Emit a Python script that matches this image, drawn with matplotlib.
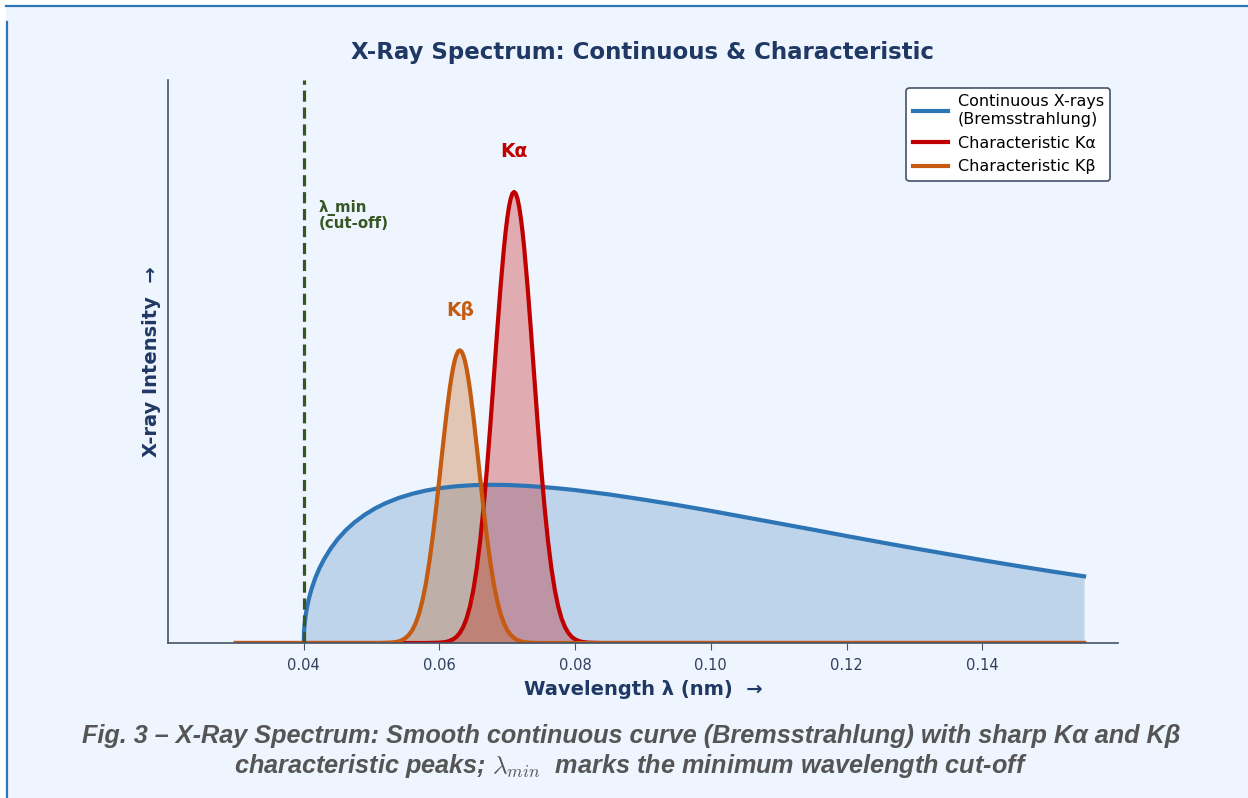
import matplotlib
matplotlib.use("Agg")
import matplotlib.pyplot as plt
from matplotlib.lines import Line2D

plt.rcParams["mathtext.fontset"] = "cm"

# ---------------- data ----------------
cont_wl = [0.0400, 0.04005, 0.0401, 0.0402, 0.0403, 0.0405, 0.0408, 0.0412, 0.0417,
           0.0423, 0.0430, 0.0440, 0.0450, 0.0462, 0.0475, 0.0490, 0.0505, 0.0520,
           0.0540, 0.0560, 0.0580, 0.0600, 0.0625, 0.0650, 0.0675, 0.0700, 0.0725,
           0.0750, 0.0775, 0.0800, 0.0850, 0.0900, 0.0950, 0.1000, 0.1050, 0.1100,
           0.1150, 0.1200, 0.1250, 0.1300, 0.1350, 0.1400, 0.1450, 0.1500, 0.1550]
cont_int = [0.000, 0.072, 0.102, 0.144, 0.176, 0.226, 0.284, 0.344, 0.406,
            0.466, 0.524, 0.592, 0.649, 0.705, 0.755, 0.802, 0.841, 0.873,
            0.907, 0.933, 0.953, 0.968, 0.980, 0.987, 0.989, 0.988, 0.983,
            0.976, 0.967, 0.956, 0.929, 0.897, 0.863, 0.826, 0.787, 0.748,
            0.709, 0.669, 0.630, 0.592, 0.555, 0.518, 0.483, 0.449, 0.417]

ka_wl = [0.030, 0.058, 0.059, 0.060, 0.061, 0.0615, 0.062, 0.0625, 0.063, 0.0635,
         0.064, 0.0645, 0.065, 0.0655, 0.066, 0.0665, 0.067, 0.0675, 0.068, 0.0685,
         0.069, 0.0695, 0.06975, 0.070, 0.07025, 0.0705, 0.07075, 0.071,
         0.07125, 0.0715, 0.07175, 0.072, 0.07225, 0.0725, 0.073, 0.0735, 0.074,
         0.0745, 0.075, 0.0755, 0.076, 0.0765, 0.077, 0.0775, 0.078, 0.0785,
         0.079, 0.0795, 0.080, 0.0805, 0.081, 0.082, 0.083, 0.084, 0.155]
ka_int = [0.0, 0.0, 0.001, 0.002, 0.007, 0.013, 0.023, 0.038, 0.063, 0.100,
          0.153, 0.229, 0.332, 0.467, 0.638, 0.846, 1.089, 1.361, 1.651, 1.945,
          2.223, 2.467, 2.570, 2.657, 2.727, 2.778, 2.810, 2.820,
          2.810, 2.778, 2.727, 2.657, 2.570, 2.467, 2.223, 1.945, 1.651,
          1.361, 1.089, 0.846, 0.638, 0.467, 0.332, 0.229, 0.153, 0.100,
          0.063, 0.038, 0.023, 0.013, 0.007, 0.002, 0.001, 0.0, 0.0]

kb_wl = [0.030, 0.051, 0.052, 0.053, 0.0535, 0.054, 0.0545, 0.055, 0.0555, 0.056,
         0.0565, 0.057, 0.0575, 0.058, 0.0585, 0.059, 0.0595, 0.060, 0.0605, 0.061,
         0.0615, 0.06175, 0.062, 0.06225, 0.0625, 0.06275, 0.063,
         0.06325, 0.0635, 0.06375, 0.064, 0.06425, 0.0645, 0.065, 0.0655, 0.066,
         0.0665, 0.067, 0.0675, 0.068, 0.0685, 0.069, 0.0695, 0.070, 0.0705, 0.071,
         0.0715, 0.072, 0.0725, 0.073, 0.074, 0.075, 0.155]
kb_int = [0.0, 0.0, 0.001, 0.003, 0.006, 0.010, 0.018, 0.031, 0.051, 0.080,
          0.124, 0.184, 0.266, 0.371, 0.503, 0.660, 0.838, 1.031, 1.228, 1.418,
          1.585, 1.656, 1.717, 1.766, 1.801, 1.823, 1.830,
          1.823, 1.801, 1.766, 1.717, 1.656, 1.585, 1.418, 1.228, 1.031,
          0.838, 0.660, 0.503, 0.371, 0.266, 0.184, 0.124, 0.080, 0.051, 0.031,
          0.018, 0.010, 0.006, 0.003, 0.001, 0.0, 0.0]

lambda_min = 0.04
ka_peak = (0.071, 2.82)
kb_peak = (0.063, 1.83)
x_ticks = [0.04, 0.06, 0.08, 0.10, 0.12, 0.14]
x_tick_labels = ["0.04", "0.06", "0.08", "0.10", "0.12", "0.14"]

# ---------------- styling ----------------
BG = "#EEF5FE"
BLUE = "#2E75B6"
RED = "#C00000"
ORANGE = "#C55A11"
GREEN = "#375623"
NAVY = "#1F3864"
SPINE = "#44546A"

fig = plt.figure(figsize=(12.48, 7.98), dpi=100, facecolor="white")
fig.patches.append(plt.Rectangle((6 / 1248, 0), 1 - 6 / 1248, 1 - 6 / 798,
                                 transform=fig.transFigure, facecolor=BG,
                                 edgecolor="none", zorder=-10))
fig.add_artist(Line2D([6 / 1248, 1], [1 - 6 / 798, 1 - 6 / 798],
                      transform=fig.transFigure, color=BLUE, lw=1.6))
fig.add_artist(Line2D([6.5 / 1248, 6.5 / 1248], [0, 1 - 22 / 798],
                      transform=fig.transFigure, color=BLUE, lw=1.6))

ax = fig.add_axes([168 / 1248, 1 - 643 / 798, (1118 - 168) / 1248, (643 - 80) / 798])
ax.set_facecolor(BG)

# continuous
ax.fill_between(cont_wl, cont_int, color=BLUE, alpha=0.25, lw=0)
ax.plot(cont_wl, cont_int, color=BLUE, lw=3, label="Continuous X-rays\n(Bremsstrahlung)")
# K alpha
ax.fill_between(ka_wl, ka_int, color=RED, alpha=0.30, lw=0)
ax.plot(ka_wl, ka_int, color=RED, lw=3, label="Characteristic Kα")
# K beta
ax.fill_between(kb_wl, kb_int, color=ORANGE, alpha=0.30, lw=0)
ax.plot(kb_wl, kb_int, color=ORANGE, lw=3, label="Characteristic Kβ")

# cut-off
ax.axvline(lambda_min, color=GREEN, lw=2.3, ls=(0, (3.5, 1.8)))
ax.text(lambda_min + 0.0022, 2.77, "λ_min\n(cut-off)", color=GREEN, fontsize=10.8,
        fontweight="bold", ha="left", va="top", linespacing=1.0)

ax.text(ka_peak[0], ka_peak[1] + 0.25, "Kα", color=RED, fontsize=13.5, fontweight="bold",
        ha="center", va="center")
ax.text(kb_peak[0], kb_peak[1] + 0.25, "Kβ", color=ORANGE, fontsize=13.5, fontweight="bold",
        ha="center", va="center")

ax.set_xlim(0.02, 0.16)
ax.set_ylim(0, 3.52)
ax.set_xticks(x_ticks)
ax.set_xticklabels(x_tick_labels)
ax.set_yticks([])
ax.tick_params(axis="x", colors=SPINE, labelcolor="#2F3E5C", labelsize=10.5,
               length=5, pad=6)
for s in ("top", "right"):
    ax.spines[s].set_visible(False)
for s in ("left", "bottom"):
    ax.spines[s].set_color(SPINE)
    ax.spines[s].set_linewidth(1.2)

ax.set_xlabel("Wavelength λ (nm)  →", fontsize=14, fontweight="bold", color=NAVY, labelpad=5)
ax.set_ylabel("X-ray Intensity  →", fontsize=14, fontweight="bold", color=NAVY, labelpad=5)

leg = ax.legend(loc="upper right", fontsize=11.5, frameon=True, fancybox=True,
                edgecolor=SPINE, facecolor="white", framealpha=1.0,
                borderpad=0.4, handlelength=2.2, handletextpad=0.6,
                labelspacing=0.55)
leg.get_frame().set_linewidth(1.2)

fig.text(643 / 1248, 1 - 52 / 798, "X-Ray Spectrum: Continuous & Characteristic",
         ha="center", va="center", fontsize=16.5, fontweight="bold", color=NAVY)

fig.text(0.5 + 7 / 1248, 1 - 752 / 798,
         "Fig. 3 – X-Ray Spectrum: Smooth continuous curve (Bremsstrahlung) with sharp Kα and Kβ\n"
         "characteristic peaks; $\\lambda_{min}$  marks the minimum wavelength cut-off",
         ha="center", va="center", fontsize=18.2, fontweight="bold", fontstyle="italic",
         color="#555555", family="Liberation Sans", linespacing=1.15)

fig.savefig("out.png", dpi=100, facecolor=fig.get_facecolor())
